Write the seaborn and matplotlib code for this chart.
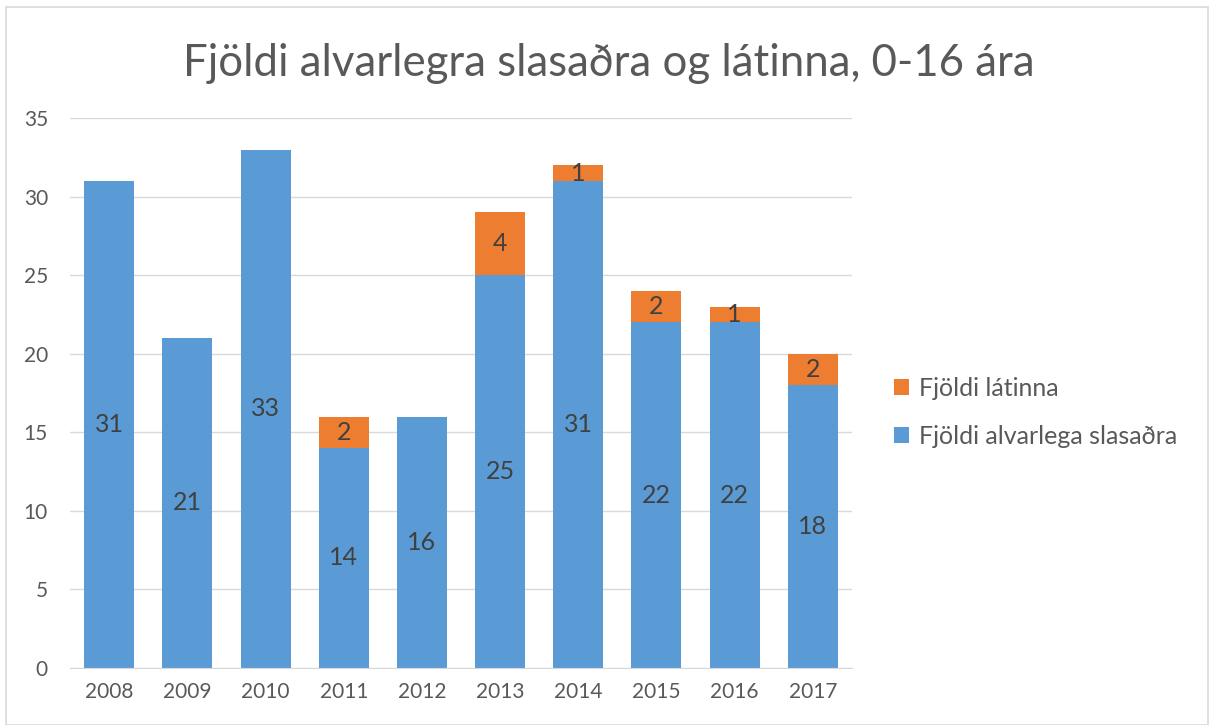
import matplotlib
matplotlib.use("Agg")
import matplotlib.pyplot as plt
import matplotlib.patches as patches
import pandas as pd
import seaborn as sns

# Data
years = [2008, 2009, 2010, 2011, 2012, 2013, 2014, 2015, 2016, 2017]
slasadra = [31, 21, 33, 14, 16, 25, 31, 22, 22, 18]
latinna = [0, 0, 0, 2, 0, 4, 1, 2, 1, 2]
series_names = ["Fjöldi látinna", "Fjöldi alvarlega slasaðra"]
title = "Fjöldi alvarlegra slasaðra og látinna, 0-16 ára"

blue = "#5B9BD5"
orange = "#ED7D31"
text_col = "#595959"
grid_col = "#D9D9D9"

df = pd.DataFrame({
    "year": years * 2,
    "value": latinna + slasadra,
    "series": [series_names[0]] * len(years) + [series_names[1]] * len(years),
})

sns.set_style("white")
plt.rcParams["font.family"] = ["Lato", "DejaVu Sans"]

fig = plt.figure(figsize=(12.1, 7.25), dpi=100)
ax = fig.add_axes([0.058, 0.079, 0.646, 0.758])

sns.histplot(
    data=df, x="year", weights="value", hue="series",
    hue_order=series_names, multiple="stack", discrete=True,
    shrink=0.64, palette={series_names[0]: orange, series_names[1]: blue},
    alpha=1, linewidth=0, ax=ax,
)

for cont in ax.containers:
    labels = [f"{v:g}" if v > 0 else "" for v in cont.datavalues]
    ax.bar_label(cont, labels=labels, label_type="center",
                 fontsize=18, color="#404040")

ax.set_ylim(0, 35)
ax.set_xlim(years[0] - 0.5, years[-1] + 0.5)
ax.set_yticks(range(0, 36, 5))
ax.set_xticks(years)
ax.set_xticklabels([str(y) for y in years])
ax.tick_params(axis="both", length=0, labelsize=15, labelcolor=text_col)
ax.tick_params(axis="y", pad=16)
ax.tick_params(axis="x", pad=10)
ax.set_xlabel("")
ax.set_ylabel("")
ax.yaxis.grid(True, color=grid_col, linewidth=1)
ax.set_axisbelow(True)
for side in ["top", "right", "left"]:
    ax.spines[side].set_visible(False)
ax.spines["bottom"].set_color(grid_col)

sns.move_legend(
    ax, "center left", bbox_to_anchor=(1.025, 0.465), frameon=False,
    title=None, fontsize=18, handlelength=0.6, handleheight=0.6,
    labelspacing=1.0, handletextpad=0.4,
)
for t in ax.get_legend().get_texts():
    t.set_color(text_col)

fig.suptitle(title, x=0.503, y=0.94, fontsize=31.5, color=text_col)

fig.patches.append(patches.Rectangle(
    (0.005, 0.0), 0.993, 0.99, transform=fig.transFigure,
    fill=False, edgecolor=grid_col, linewidth=1.2,
))

fig.savefig("out.png", dpi=100)
